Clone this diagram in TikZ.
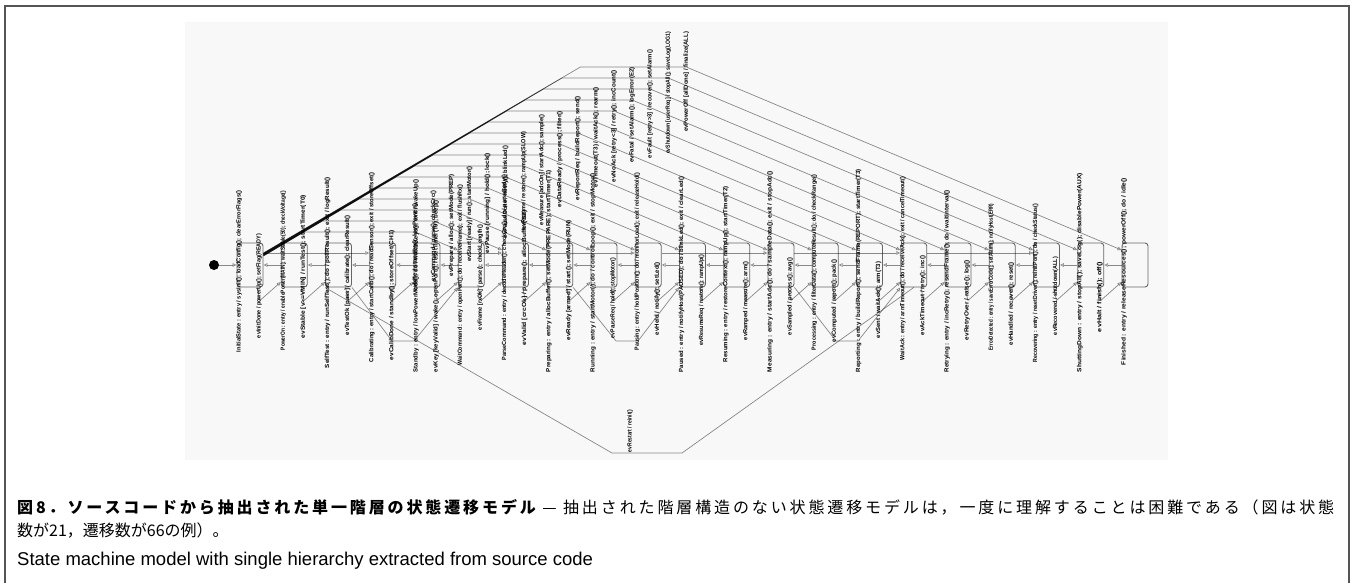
\documentclass[tikz,border=0pt]{standalone}
\usepackage{fontspec}
\setmainfont{Liberation Sans}
\newfontfamily\jpfont{Noto Sans CJK JP}
\newfontfamily\jpwide{Noto Sans CJK JP}[LetterSpace=18]
\usepackage{xcolor}
\usetikzlibrary{arrows.meta, calc}

\definecolor{boxgray}{HTML}{666666}
\definecolor{framegray}{HTML}{555555}
\definecolor{panelgray}{HTML}{F8F8F8}

\newcommand{\labfont}{\fontsize{6}{6}\selectfont\bfseries}
% upright label stretched to a column of given length: name, x, y, length, text
\newcommand{\vlabel}[5]{%
  \pgfinterruptpicture\global\setbox1=\hbox{\labfont #5}\endpgfinterruptpicture
  \pgfmathsetmacro\vsc{#4/\the\wd1}%
  \begin{scope}[shift={(#2,#3)}]
    \node[vtext, xscale=\vsc] (#1) at (0,0) {#5};
  \end{scope}}

\begin{document}
\begin{tikzpicture}[
    x=1pt, y=-1pt,
    state/.style={draw=boxgray, line width=0.9pt, rounded corners=3pt,
                  minimum width=26pt, minimum height=44pt, inner sep=0pt},
    init/.style={circle, fill=black, minimum size=10pt, inner sep=0pt},
    edge/.style={draw=black, draw opacity=0.45, line width=0.7pt,
                 -{Triangle[open, length=4pt, width=3.5pt]}},
    vtext/.style={rotate=90, transform shape, inner sep=0pt,
                  text=black, font=\labfont},
  ]
  \useasboundingbox (0,0) rectangle (1352,583);

  % frame and panel
  \draw[framegray, line width=1.5pt] (5,583) -- (5,6) -- (1349,6) -- (1349,583);
  \fill[panelgray] (185,22) rectangle (1168,460);

  % States: one row of 21
  \foreach \k in {1,...,21}{
    \pgfmathsetmacro\sx{250+44.25*(\k-1)}
    \node[state] (s\k) at (\sx,265) {};
  }
  \node[init] (init) at (214,265) {};
  \draw[edge] (init) -- (s1);

  % state names, written upright through the boxes
  \foreach \k/\top/\bot/\name in {
      1/191/352/{InitialState : entry / sysInit(); loadConfig(); clearErrorFlags()},
      2/191/350/{PowerOn : entry / enablePower(MAIN); waitStable(50); checkVoltage()},
      3/177/368/{SelfTest : entry / runSelfTest(); do / pollResult(); exit / logResult()},
      4/173/362/{Calibrating : entry / startCalib(); do / readSensor(); exit / storeOffset()},
      5/180/372/{Standby : entry / lowPowerMode(); do / watchKeys(); exit / wakeUp()},
      6/185/365/{WaitCommand : entry / openPort(); do / receiveFrame(); exit / flushRx()},
      7/175/360/{ParseCommand : entry / decodeHeader(); checkCrc(); do / parseBody()},
      8/170/372/{Preparing : entry / allocBuffer(); setMode(PREPARE); startTimer(T1)},
      9/173/372/{Running : entry / startMotor(); do / controlLoop(); exit / stopMotor()},
      10/173/350/{Pausing : entry / holdPosition(); do / monitorLoad(); exit / releaseHold()},
      11/177/372/{Paused : entry / notifyHost(PAUSED); do / blinkLed(); exit / clearLed()},
      12/186/362/{Resuming : entry / restoreContext(); rampUp(); startTimer(T2)},
      13/171/372/{Measuring : entry / startAdc(); do / sampleData(); exit / stopAdc()},
      14/175/350/{Processing : entry / filterData(); computeResult(); do / checkRange()},
      15/169/372/{Reporting : entry / buildReport(); sendFrame(REPORT); startTimer(T3)},
      16/177/360/{WaitAck : entry / armTimeout(); do / receiveAck(); exit / cancelTimeout()},
      17/190/372/{Retrying : entry / incRetry(); resendFrame(); do / waitInterval()},
      18/204/350/{ErrorDetected : entry / saveErrorCode(); setAlarm(); notifyHost(ERR)},
      19/204/362/{Recovering : entry / resetDriver(); reinitPort(); do / checkStatus()},
      20/173/372/{ShuttingDown : entry / stopAll(); saveLog(); disablePower(AUX)},
      21/178/365/{Finished : entry / releaseResources(); powerOff(); do / idle()}}{
    \pgfmathsetmacro\lx{250+44.25*(\k-1)-11}
    \pgfmathsetmacro\ly{(\top+\bot)/2}
    \pgfmathsetmacro\len{\bot-\top}
    \vlabel{n\k}{\lx}{\ly}{\len}{\name}
  }

  % Transitions from the initial state, routed over the row
  \foreach \m/\len/\ev in {
      0/100/{evPowerOff [allDone] / finalize(ALL)},
      1/122/{evShutdown [userReq] / stopAll(); saveLog(LOG1)},
      2/108/{evFault [retry>3] / recover(); setAlarm()},
      3/95/{evFatal / setAlarm(); logError(E2)},
      4/112/{evNoAck [retry<3] / retry(); incCount()},
      5/100/{evTimeout(T3) / waitAck(); rearm()},
      6/104/{evReportReq / buildReport(); send()},
      7/96/{evDataReady / process(); filter()},
      8/110/{evMeasure [adcOn] / startAdc(); sample()},
      9/98/{evResume / restore(); rampUp(SLOW)},
      10/92/{evPauseDone / notify(); blinkLed()},
      11/100/{evPause [running] / hold(); lock()},
      12/95/{evStart [ready] / run(); startMotor()},
      13/102/{evPrepare / alloc(); setMode(PREP)},
      14/90/{evCommand / parse(); checkCrc()},
      15/88/{evIdle / standby(); lowPower()}}{
    \pgfmathtruncatemacro\t{21-\m}
    \pgfmathsetmacro\yh{67+11*\m}
    \pgfmathsetmacro\ys{253+0.2*\m}
    \pgfmathsetmacro\xf{263+(\ys-\yh)/0.586}
    \pgfmathsetmacro\xc{250+44.25*(\t-1)-13-(250-\yh)/0.42}
    \pgfmathsetmacro\ly{\yh+15}
    \draw[edge] ($(s1.east)+(0,\ys-265)$) -- (\xf,\yh) -- (\xc,\yh)
      -- ($(s\t.west)+(0,-15)$);
    \vlabel{f\m}{\xc}{\ly}{\len}{\ev}
  }

  % Next-state transitions, routed under the row
  \foreach \k/\top/\bot/\ev in {
      1/234/338/{evInitDone / powerUp(); setFlag(READY)},
      2/195/338/{evStable [v>=VMIN] / runTest(); startTimer(T0)},
      3/215/335/{evTestOk [pass] / calibrate(); clearResult()},
      4/230/360/{evCalibDone / standby(); storeOffset(CH1)},
      5/200/372/{evKey [keyValid] / wake(); openPort(); resetTimer(T0); beep()},
      6/225/330/{evFrame [rxOk] / parse(); checkLength()},
      7/210/345/{evValid [crcOk] / prepare(); allocBuffer(SZ)},
      8/220/340/{evReady [armed] / start(); setMode(RUN)},
      9/258/338/{evPauseReq / hold(); stopMotor()},
      10/262/335/{evHeld / notify(); setLed()},
      11/255/345/{evResumeReq / restore(); rampUp()},
      12/262/340/{evRamped / measure(); arm()},
      13/258/335/{evSampled / process(); avg()},
      14/260/342/{evComputed / report(); pack()},
      15/262/338/{evSent / waitAck(); arm(T3)},
      16/256/335/{evAckTimeout / retry(); inc()},
      17/260/340/{evRetryOver / raise(); log()},
      18/262/345/{evHandled / recover(); reset()},
      19/257/335/{evRecovered / shutdown(ALL)},
      20/262/332/{evHalt / finish(); off()}}{
    \pgfmathtruncatemacro\kn{\k+1}
    \pgfmathsetmacro\lx{250+44.25*(\k-1)+9}
    \pgfmathsetmacro\ly{(\top+\bot)/2}
    \pgfmathsetmacro\len{\bot-\top}
    \draw[edge] ($(s\k.south)+(7,0)$) -- ($(s\k.south)+(10,13)$)
      -- ($(s\kn.west)+(0,17)$);
    \vlabel{b\k}{\lx}{\ly}{\len}{\ev}
  }

  % back steps straight across the row
  \foreach \k in {1,...,20}{
    \pgfmathtruncatemacro\kn{\k+1}
    \draw[edge] (s\kn.west) -- (s\k.east);
  }
  % skips through the row
  \foreach \k in {1,4,7,10,13,16}{
    \pgfmathtruncatemacro\kk{\k+3}
    \draw[edge] ($(s\k.east)+(0,-12)$) -- ($(s\kk.west)+(0,-12)$);
  }

  % Loops under the row
  \draw[edge] (s3.south east) -- (392,341) -- (414,341) -- (s6.south west);
  \draw[edge] (s8.south east) -- (616,341) -- (638,341) -- (s11.south west);
  \draw[edge] (s13.south east) -- (836,341) -- (858,341) -- (s16.south west);
  \draw[edge] (s16.south) -- (682,453) -- (612,453) -- (s3.south west);
  \vlabel{back}{630}{431}{42}{evRestart / reinit()}

  % Caption
  \node[anchor=west, inner sep=0pt, font=\jpwide\fontsize{16}{20}\selectfont]
       (capjp) at (17,507)
       {{\bfseries 図8．ソースコードから抽出された単一階層の状態遷移モデル} — 抽出された階層構造のない状態遷移モデルは，一度に理解することは困難である（図は状態};
  \node[anchor=west, inner sep=0pt, font=\jpfont\fontsize{16}{20}\selectfont]
       (capjp2) at (17,531) {数が21，遷移数が66の例）。};
  \node[anchor=west, inner sep=0pt, font=\fontsize{18.5}{22}\selectfont]
       (capen) at (17,561) {State machine model with single hierarchy extracted from source code};
\end{tikzpicture}
\end{document}
